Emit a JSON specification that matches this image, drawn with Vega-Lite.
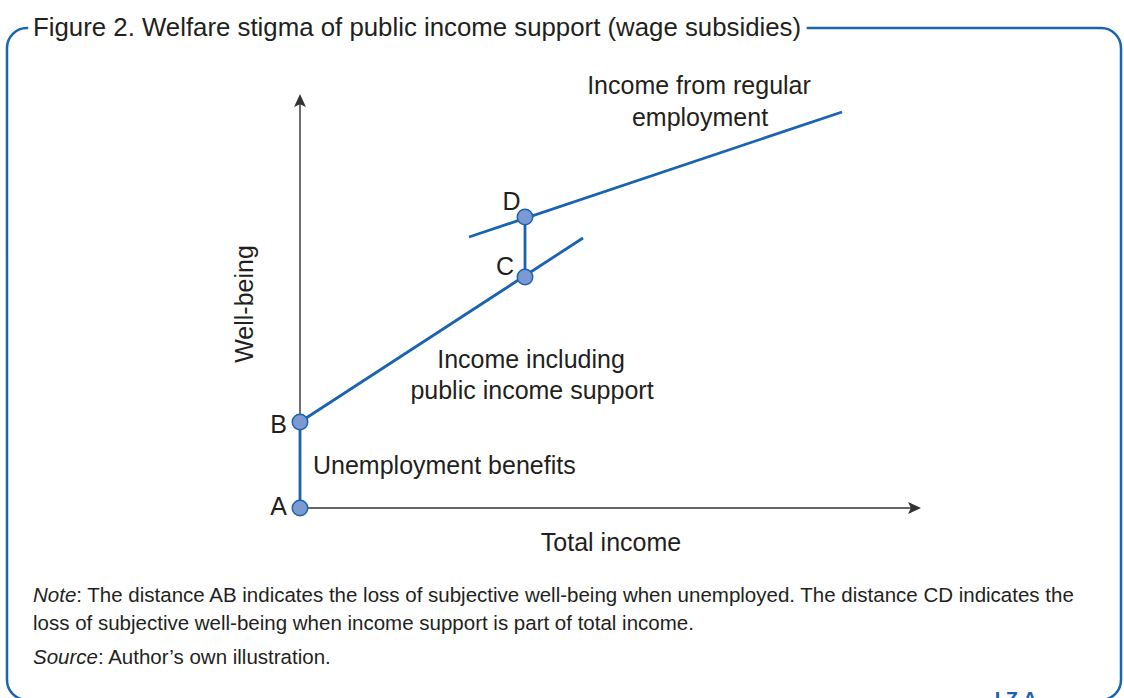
{
  "$schema": "https://vega.github.io/schema/vega-lite/v6.json",
  "width": 1124,
  "height": 698,
  "autosize": "none",
  "padding": 0,
  "background": "white",
  "config": {"view": {"stroke": null}, "text": {"font": "Liberation Sans", "color": "#231f20"}},
  "datasets": {
    "frame": [{"x": -29.3, "y": 48.0, "x2": 82.1, "y2": -19.2}],
    "axes": [
      {"axis": "x", "x": 0, "y": 0, "x2": 61.5, "y2": 0},
      {"axis": "y", "x": 0, "y": 0, "x2": 0, "y2": 41.0}
    ],
    "arrows": [
      {"axis": "x", "x": 61.4, "y": 0},
      {"axis": "y", "x": 0, "y": 40.7}
    ],
    "segments": [
      {"seg": "AB", "x": 0, "y": 0, "x2": 0, "y2": 8.6},
      {"seg": "Income including public income support", "x": 0, "y": 8.6, "x2": 28.3, "y2": 27.0},
      {"seg": "Income from regular employment", "x": 16.9, "y": 27.1, "x2": 54.2, "y2": 39.6},
      {"seg": "CD", "x": 22.5, "y": 23.1, "x2": 22.5, "y2": 29.1}
    ],
    "points": [
      {"label": "A", "x": 0, "y": 0},
      {"label": "B", "x": 0, "y": 8.6},
      {"label": "C", "x": 22.5, "y": 23.1},
      {"label": "D", "x": 22.5, "y": 29.1}
    ],
    "labelsRight": [
      {"text": "A", "x": -1.3, "y": 0.1},
      {"text": "B", "x": -1.3, "y": 8.3},
      {"text": "C", "x": 21.4, "y": 24.15}
    ],
    "labelsCenter": [
      {"text": "D", "x": 21.15, "y": 30.6},
      {"text": "Income including", "x": 23.1, "y": 14.8},
      {"text": "public income support", "x": 23.2, "y": 11.7},
      {"text": "Income from regular", "x": 39.9, "y": 42.2},
      {"text": "employment", "x": 40.0, "y": 39.0},
      {"text": "Total income", "x": 31.1, "y": -3.5}
    ],
    "labelsLeft": [
      {"text": "Unemployment benefits", "x": 1.3, "y": 4.2}
    ],
    "labelsRotated": [
      {"text": "Well-being", "x": -5.5, "y": 20.4}
    ],
    "title": [
      {"text": "Figure 2. Welfare stigma of public income support (wage subsidies)", "x": -26.7, "y": 48.0}
    ],
    "notesItalic": [
      {"text": "Note", "x": -26.7, "y": -8.8},
      {"text": "Source", "x": -26.7, "y": -15.0}
    ],
    "notes": [
      {"text": ": The distance AB indicates the loss of subjective well-being when unemployed. The distance CD indicates the", "x": -22.37, "y": -8.8},
      {"text": "loss of subjective well-being when income support is part of total income.", "x": -26.7, "y": -11.6},
      {"text": ": Author’s own illustration.", "x": -20.21, "y": -15.0}
    ],
    "logo": [{"text": "I Z A", "x": 71.6, "y": -18.2}]
  },
  "encoding": {
    "x": {"field": "x", "type": "quantitative", "scale": {"domain": [-30, 82.4], "nice": false, "zero": false}, "axis": null},
    "y": {"field": "y", "type": "quantitative", "scale": {"domain": [-19.0, 50.8], "nice": false, "zero": false}, "axis": null}
  },
  "layer": [
    {
      "data": {"name": "frame"},
      "mark": {"type": "rect", "fill": null, "fillOpacity": 0, "stroke": "#1a63b0", "strokeWidth": 2.5, "cornerRadius": 20},
      "encoding": {"x2": {"field": "x2"}, "y2": {"field": "y2"}}
    },
    {
      "data": {"name": "title"},
      "mark": {"type": "text", "align": "left", "baseline": "middle", "fontSize": 25.8, "stroke": "white", "strokeWidth": 14, "fill": "white"},
      "encoding": {"text": {"field": "text"}}
    },
    {
      "data": {"name": "title"},
      "mark": {"type": "text", "align": "left", "baseline": "middle", "fontSize": 25.8},
      "encoding": {"text": {"field": "text"}}
    },
    {
      "data": {"name": "axes"},
      "mark": {"type": "rule", "color": "#333333", "strokeWidth": 1.4},
      "encoding": {"x2": {"field": "x2"}, "y2": {"field": "y2"}}
    },
    {
      "data": {"name": "arrows"},
      "mark": {"type": "point", "filled": true, "color": "#333333", "size": 196, "opacity": 1},
      "encoding": {
        "shape": {"field": "axis", "type": "nominal", "scale": {"domain": ["x", "y"], "range": ["M1,0L-0.85,0.85L-0.45,0L-0.85,-0.85Z", "M0,-1L0.85,0.85L0,0.45L-0.85,0.85Z"]}, "legend": null}
      }
    },
    {
      "data": {"name": "segments"},
      "mark": {"type": "rule", "color": "#1a63b0", "strokeWidth": 2.8},
      "encoding": {"x2": {"field": "x2"}, "y2": {"field": "y2"}}
    },
    {
      "data": {"name": "points"},
      "mark": {"type": "point", "filled": true, "fill": "#7d99d2", "stroke": "#1a63b0", "strokeWidth": 1.5, "size": 240, "opacity": 1, "fillOpacity": 1}
    },
    {
      "data": {"name": "labelsRight"},
      "mark": {"type": "text", "align": "right", "baseline": "middle", "fontSize": 25},
      "encoding": {"text": {"field": "text"}}
    },
    {
      "data": {"name": "labelsCenter"},
      "mark": {"type": "text", "align": "center", "baseline": "middle", "fontSize": 25},
      "encoding": {"text": {"field": "text"}}
    },
    {
      "data": {"name": "labelsLeft"},
      "mark": {"type": "text", "align": "left", "baseline": "middle", "fontSize": 25},
      "encoding": {"text": {"field": "text"}}
    },
    {
      "data": {"name": "labelsRotated"},
      "mark": {"type": "text", "align": "center", "baseline": "middle", "fontSize": 25, "angle": 270},
      "encoding": {"text": {"field": "text"}}
    },
    {
      "data": {"name": "notesItalic"},
      "mark": {"type": "text", "align": "left", "baseline": "middle", "fontSize": 20.5, "fontStyle": "italic"},
      "encoding": {"text": {"field": "text"}}
    },
    {
      "data": {"name": "notes"},
      "mark": {"type": "text", "align": "left", "baseline": "middle", "fontSize": 20.5},
      "encoding": {"text": {"field": "text"}}
    },
    {
      "data": {"name": "logo"},
      "mark": {"type": "text", "align": "center", "baseline": "top", "fontSize": 20, "fontWeight": "bold", "color": "#1a63b0"},
      "encoding": {"text": {"field": "text"}}
    }
  ]
}
